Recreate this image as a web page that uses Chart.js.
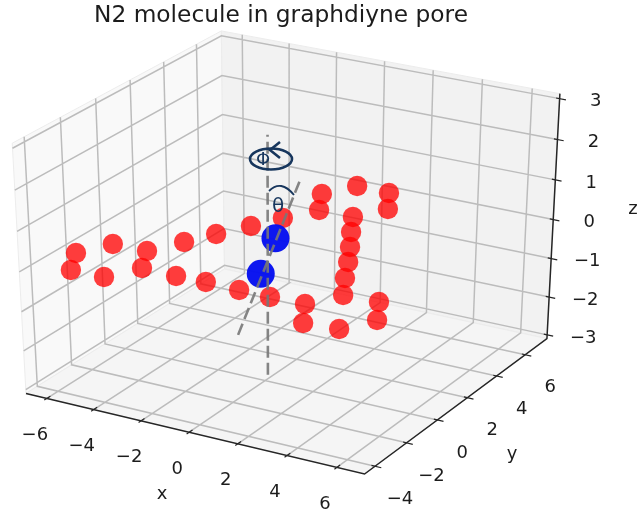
<!DOCTYPE html>
<html>
<head>
<meta charset="utf-8">
<title>N2 molecule in graphdiyne pore</title>
<script src="https://cdn.jsdelivr.net/npm/chart.js@4/dist/chart.umd.min.js"></script>
<style>
html,body{margin:0;padding:0;background:#fff}
canvas{display:block;filter:blur(.45px)}
</style>
</head>
<body>
<canvas id="c" width="638" height="514"></canvas>
<script>
// graphdiyne pore atoms, all at z = 0
var carbonX = [-6.15,-5.42,-5.48,-4.05,-4.06,-3.35,-3.37,-1.91,-2.78,-0.71,-2.10,0.68,-1.50,1.94,-1.49,-0.76,-0.77,0.61,1.37,0.66,1.34,2.03,2.68,3.33,4.05,5.44,6.17,5.44,3.31,4.11];
var carbonY = [-2.45,-3.73,-1.23,-3.71,-1.20,-2.49,0.03,-2.53,1.12,-2.50,2.27,-2.55,3.38,-2.57,5.87,4.57,7.08,7.03,5.75,4.57,3.39,2.25,1.12,-0.09,-1.32,-1.27,-2.54,-3.72,-2.52,-3.85];
var carbonZ = [0,0,0,0,0,0,0,0,0,0,0,0,0,0,0,0,0,0,0,0,0,0,0,0,0,0,0,0,0,0];
// N2 molecule
var nitrogenX = [0.14,-0.38];
var nitrogenY = [0.46,0.32];
var nitrogenZ = [0.43,-0.49];
// dashed reference lines
var normalX = [-0.15,-0.12];
var normalY = [0.39,0.39];
var normalZ = [-3.08,2.94];
var tiltX = [-1.40,1.19];
var tiltY = [0.39,0.39];
var tiltZ = [-2.21,2.01];
// axes
var xLim = [-6.9,7.1], yLim = [-4.65,7.55], zLim = [-3.1,3.12];
var xTicks = [-6,-4,-2,0,2,4,6];
var yTicks = [-4,-2,0,2,4,6];
var zTicks = [-3,-2,-1,0,1,2,3];

var FONT = '"DejaVu Sans"';
var INK = '#1c1c1c';
var GRID = '#bcbcbc';

// camera: elev 30, azim -60, dist 10 on a unit cube
var U = [0.8660254,0.5,0], V = [-0.25,0.4330127,0.8660254], N = [0.4330127,-0.75,0.5];
function dot(a,b){ return a[0]*b[0]+a[1]*b[1]+a[2]*b[2]; }
function project(x,y,z){
  var q = [(x-xLim[0])/(xLim[1]-xLim[0])-0.5,(y-yLim[0])/(yLim[1]-yLim[0])-0.5,(z-zLim[0])/(zLim[1]-zLim[0])-0.5];
  var f = 10/(10-dot(q,N));
  return {x:f*dot(q,U),y:f*dot(q,V)};
}
function pts3(xs,ys,zs){ return xs.map(function(x,i){ return project(x,ys[i],zs[i]); }); }
var GAP = {x:NaN,y:NaN};

var x0=xLim[0],x1=xLim[1],y0=yLim[0],y1=yLim[1],z0=zLim[0],z1=zLim[1];

function pane(corners,col,order){
  var d = corners.map(function(c){ return project(c[0],c[1],c[2]); });
  d.push(d[0]);
  return {data:d,showLine:true,fill:'shape',backgroundColor:col,borderColor:'#ececec',borderWidth:1,pointRadius:0,order:order};
}

// grid polylines run along the floor and up the back walls
var gridPts = [];
xTicks.forEach(function(t){ gridPts.push(project(t,y0,z0),project(t,y1,z0),project(t,y1,z1),GAP); });
yTicks.forEach(function(t){ gridPts.push(project(x1,t,z0),project(x0,t,z0),project(x0,t,z1),GAP); });
zTicks.forEach(function(t){ gridPts.push(project(x0,y0,t),project(x0,y1,t),project(x1,y1,t),GAP); });

var axisPts = [project(x0,y0,z0),project(x1,y0,z0),project(x1,y1,z0),project(x1,y1,z1)];

var tickPts = [];
xTicks.forEach(function(t){ tickPts.push(project(t,y0-0.15,z0),project(t,y0+0.2,z0),GAP); });
yTicks.forEach(function(t){ tickPts.push(project(x1-0.14,t,z0),project(x1+0.25,t,z0),GAP); });
zTicks.forEach(function(t){ tickPts.push(project(x1-0.14,y1,t),project(x1+0.25,y1,t),GAP); });

function lineSet(d,col,w,order,dash){
  return {data:d,showLine:true,fill:false,borderColor:col,borderWidth:w,borderDash:dash||[],pointRadius:0,order:order};
}
function atomSet(d,col,r,order){
  return {data:d,showLine:false,backgroundColor:col,borderColor:col,borderWidth:0,pointRadius:r,order:order};
}

// text and the hand drawn angle marks sit on top of everything
var overlay = {
  id:'overlay',
  afterDraw:function(chart){
    var ctx = chart.ctx, sx = chart.scales.x, sy = chart.scales.y;
    function px(p){ return [sx.getPixelForValue(p.x),sy.getPixelForValue(p.y)]; }
    function label(s,x,y,size){
      ctx.font = size+'px '+FONT;
      ctx.fillText(s,x,y);
    }
    function num(t){ return t<0 ? '\u2212'+(-t) : ''+t; }
    ctx.save();
    ctx.fillStyle = INK;
    ctx.textAlign = 'center';
    ctx.textBaseline = 'middle';
    label('N2 molecule in graphdiyne pore',281,16,23.3);
    xTicks.forEach(function(t){ var p = px(project(t,y0,z0)); label(num(t),p[0]-12,p[1]+37,18); });
    yTicks.forEach(function(t){ var p = px(project(x1,t,z0)); label(num(t),p[0]+25,p[1]+33,18); });
    zTicks.forEach(function(t){ var p = px(project(x1,y1,t)); label(num(t),p[0]+36,p[1]+3,18); });
    label('x',162,494,18);
    label('y',512,454,18);
    label('z',633,209,18);

    ctx.strokeStyle = '#17365d';
    ctx.fillStyle = '#17365d';
    ctx.lineWidth = 2.6;
    ctx.beginPath();
    ctx.ellipse(271,159,21,10.5,0,0,Math.PI*2);
    ctx.stroke();
    ctx.beginPath();
    ctx.moveTo(280,142); ctx.lineTo(270,150); ctx.lineTo(280,158);
    ctx.stroke();
    label('\u03A6',263,160,18);
    label('\u03B8',278,207,20);
    ctx.lineWidth = 1.8;
    ctx.beginPath();
    ctx.moveTo(269,191);
    ctx.quadraticCurveTo(281,179,294,195);
    ctx.stroke();
    ctx.restore();
  }
};

new Chart(document.getElementById('c'),{
  type:'scatter',
  data:{datasets:[
    pane([[x0,y0,z0],[x0,y1,z0],[x0,y1,z1],[x0,y0,z1]],'#f9f9f9',20),
    pane([[x0,y1,z0],[x1,y1,z0],[x1,y1,z1],[x0,y1,z1]],'#f2f2f2',19),
    pane([[x0,y0,z0],[x1,y0,z0],[x1,y1,z0],[x0,y1,z0]],'#f5f5f5',18),
    lineSet(gridPts,GRID,1.5,17),
    lineSet(axisPts,'#262626',1.5,16),
    lineSet(tickPts,'#262626',1.2,15),
    atomSet(pts3(carbonX,carbonY,carbonZ),'rgba(255,0,0,.76)',10.2,5),
    atomSet(pts3(nitrogenX,nitrogenY,nitrogenZ),'rgba(5,15,240,.97)',14,4),
    lineSet(pts3(normalX,normalY,normalZ),'rgba(120,120,120,.9)',2.6,3,[12,5]),
    lineSet(pts3(tiltX,tiltY,tiltZ),'rgba(120,120,120,.9)',2.6,2,[12,5])
  ]},
  options:{
    responsive:false,
    animation:false,
    events:[],
    layout:{padding:0,autoPadding:false},
    plugins:{legend:{display:false},tooltip:{enabled:false},title:{display:false}},
    // scale limits put the projected cube where the figure has it
    scales:{
      x:{type:'linear',display:false,min:-290.5/390.8,max:(638-290.5)/390.8},
      y:{type:'linear',display:false,min:(244.9-514)/285.7,max:244.9/285.7}
    }
  },
  plugins:[overlay]
});
</script>
</body>
</html>
